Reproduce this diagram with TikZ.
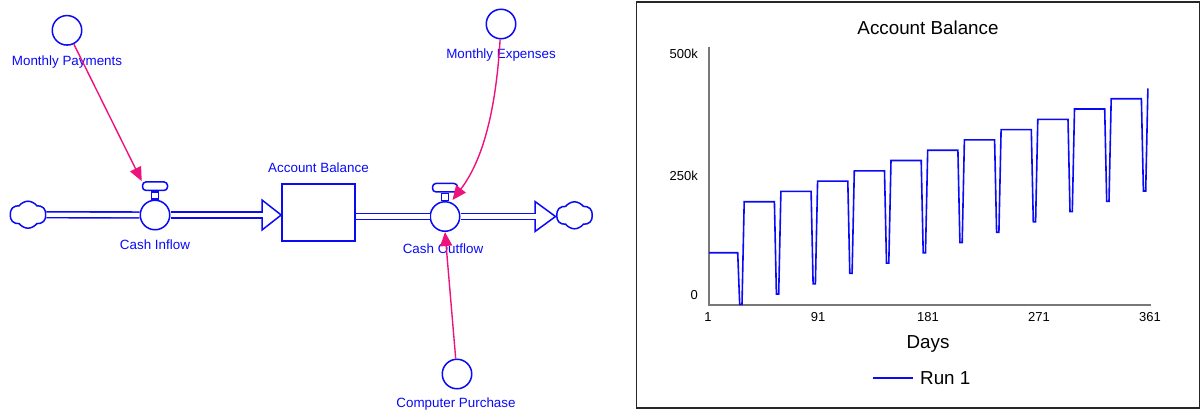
\documentclass[tikz,border=0pt]{standalone}
\usepackage{fontspec}
\setmainfont{Liberation Sans}
\usetikzlibrary{arrows.meta,shapes.symbols}
\definecolor{sfblue}{RGB}{10,10,245}
\definecolor{linkpink}{RGB}{238,18,125}
\definecolor{axisgray}{RGB}{120,120,120}

\tikzset{
  sflabel/.style={font=\fontsize{13.4}{16}\selectfont, text=sfblue, inner sep=0pt},
  aux/.style={circle, draw=sfblue, line width=1.5pt, fill=white, minimum size=29.5pt, inner sep=0pt},
  stem/.style={rectangle, draw=sfblue, line width=1.3pt, fill=white, minimum width=6.5pt, minimum height=7pt, inner sep=0pt},
  handle/.style={rectangle, rounded corners=3.5pt, draw=sfblue, line width=1.5pt, fill=white, minimum width=25pt, minimum height=8.5pt, inner sep=0pt},
  stock/.style={rectangle, draw=sfblue, line width=1.6pt, minimum width=73pt, minimum height=57pt, inner sep=0pt},
  cloudnode/.style={cloud, cloud puffs=6, cloud puff arc=110, aspect=1.3, draw=sfblue, line width=1.5pt, fill=white, minimum width=36pt, minimum height=27pt, inner sep=0pt},
  pipe/.style={draw=sfblue, double=white, double distance=4.2pt, line width=1.6pt},
  pipehead/.style={draw=sfblue, fill=white, line width=1.5pt, line join=miter},
  link/.style={draw=linkpink, line width=1.4pt, -{Triangle[length=14pt,width=12pt]}},
  run/.style={draw=sfblue, line width=1.6pt},
  ticklabel/.style={font=\fontsize{13}{15}\selectfont, inner sep=0pt},
  bigtext/.style={font=\fontsize{18.8}{22}\selectfont, inner sep=0pt}
}

\begin{document}
\begin{tikzpicture}[x=1pt,y=-1pt]
\useasboundingbox (0,0) rectangle (1203,410);

% stock and flow diagram
\node[cloudnode] (source) at (28,214.7) {};
\node[cloudnode] (sink) at (574.5,215.3) {};
\node[stock] (balance) at (318.5,212.5) {};
\node[sflabel] (balancelabel) at (318.5,167.5) {Account Balance};

\node[aux] (inflow) at (155,215) {};
\node[stem, anchor=south] (inflowstem) at (inflow.north) {};
\node[handle, anchor=south] (inflowhandle) at (inflowstem.north) {};
\node[sflabel] (inflowlabel) at (155,244.5) {Cash Inflow};

\node[aux] (outflow) at (445,216.5) {};
\node[stem, anchor=south] (outflowstem) at (outflow.north) {};
\node[handle, anchor=south] (outflowhandle) at (outflowstem.north) {};
\node[sflabel] (outflowlabel) at (443,248.5) {Cash Outflow};

\node[aux] (payments) at (67,30.3) {};
\node[sflabel] (paymentslabel) at (67,62) {Monthly Payments};
\node[aux] (expenses) at (501,24) {};
\node[sflabel] (expenseslabel) at (501,55) {Monthly Expenses};
\node[aux] (purchase) at (457,374) {};
\node[sflabel] (purchaselabel) at (456,404.5) {Computer Purchase};

\coordinate (inbase) at (262,215);
\coordinate (outbase) at (535,216.5);
\coordinate (expensestip) at (452.5,200);

\draw[pipe] (source) -- (inflow);
\draw[pipe] (inflow) -- (inbase);
\draw[pipehead] (262,200) -- (balance.west |- inbase) -- (262,230) -- cycle;
\draw[white, line width=4.2pt] ([xshift=-1pt]inbase) -- ([xshift=1.5pt]inbase);

\draw[pipe] (balance.east |- outflow) -- (outflow);
\draw[pipe] (outflow) -- (outbase);
\draw[pipehead] (535,201.5) -- (555.5,216.5) -- (535,231.5) -- cycle;
\draw[white, line width=4.2pt] ([xshift=-1pt]outbase) -- ([xshift=1.5pt]outbase);

\draw[link] (payments) -- (inflowhandle.north west);
\draw[link] (expenses) .. controls (496,110) and (483,160) .. (expensestip);
\draw[link] (purchase) -- (outflow.south);

% graph of the stock
\draw[black!85, line width=1.6pt] (636.5,2) rectangle (1199.5,408);
\node[bigtext] (charttitle) at (928,28) {Account Balance};
\draw[axisgray, line width=1.3pt] (709,46.5) -- (709,305) -- (1151,305);

\node[ticklabel, anchor=east] (ytop) at (698,54) {500k};
\node[ticklabel, anchor=east] (ymid) at (698,175.5) {250k};
\node[ticklabel, anchor=east] (yzero) at (698,295) {0};
\foreach \d/\x in {1/708, 91/818, 181/928, 271/1039, 361/1150}
  \node[ticklabel] (day\d) at (\x,317) {\d};

\draw[run] (709,252.7) -- (737.7,252.7) -- (739.7,304.3) -- (742,304.3) -- (744.2,201.7)
  \foreach \k in {1,...,11}{
    -- ({737.7+36.7*\k},{201.7-10.3*(\k-1)})
    -- ({739.7+36.7*\k},{294-10.3*(\k-1)})
    -- ({742+36.7*\k},{294-10.3*(\k-1)})
    -- ({744.2+36.7*\k},{201.7-10.3*\k})
  };

\node[bigtext] (xtitle) at (928,344) {Days};
\node[bigtext, anchor=west] (legend) at (920,378) {Run 1};
\draw[run] ([xshift=-7pt]legend.west) -- ++(-40,0);
\end{tikzpicture}
\end{document}
